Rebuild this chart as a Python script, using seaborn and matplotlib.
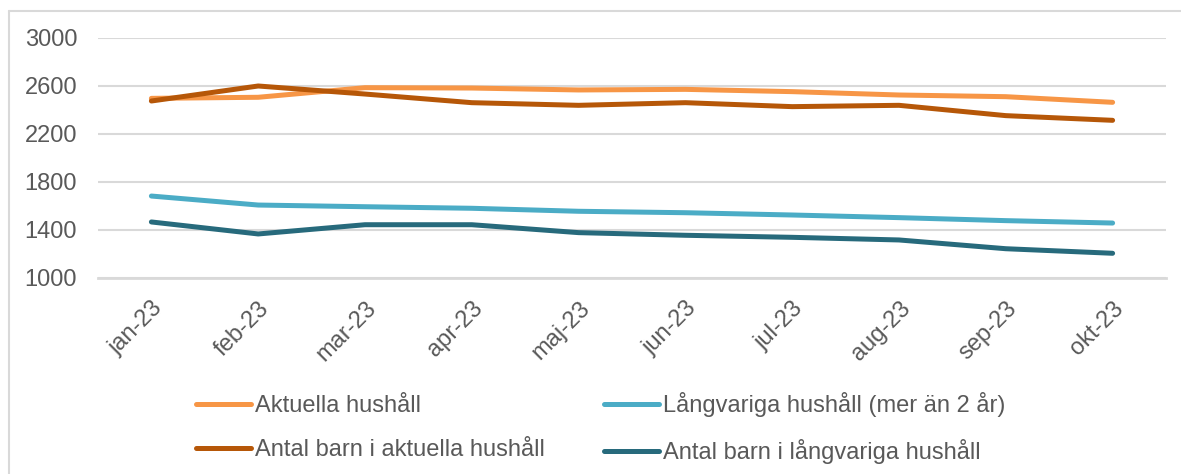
import matplotlib
matplotlib.use("Agg")
import matplotlib.pyplot as plt
from matplotlib.lines import Line2D
import seaborn as sns
import pandas as pd
import numpy as np

# Data
months = ['jan-23', 'feb-23', 'mar-23', 'apr-23', 'maj-23',
          'jun-23', 'jul-23', 'aug-23', 'sep-23', 'okt-23']
aktuella = [2497, 2506, 2586, 2583, 2567, 2572, 2553, 2525, 2511, 2464]
langvariga = [1683, 1608, 1594, 1581, 1556, 1544, 1525, 1503, 1478, 1458]
barn_aktuella = [2475, 2600, 2533, 2461, 2439, 2461, 2428, 2439, 2353, 2314]
barn_langvariga = [1467, 1367, 1444, 1444, 1378, 1356, 1339, 1317, 1244, 1206]

series_names = ['Aktuella hushåll', 'Långvariga hushåll (mer än 2 år)',
                'Antal barn i aktuella hushåll', 'Antal barn i långvariga hushåll']
colors = ['#F79646', '#4BACC6', '#B65708', '#276A7C']

df = pd.DataFrame({'Månad': months,
                   series_names[0]: aktuella,
                   series_names[1]: langvariga,
                   series_names[2]: barn_aktuella,
                   series_names[3]: barn_langvariga})
df_long = df.melt(id_vars='Månad', var_name='Serie', value_name='Antal')

sns.set_style("white")
plt.rcParams['font.family'] = ['Liberation Sans', 'DejaVu Sans']
text_color = '#595959'
grid_color = '#D9D9D9'
fs = 17

fig = plt.figure(figsize=(11.81, 4.74), dpi=100)
ax = fig.add_axes([98 / 1181, 1 - 278 / 474, (1166 - 98) / 1181, (278 - 38) / 474])

sns.lineplot(data=df_long, x='Månad', y='Antal', hue='Serie', hue_order=series_names,
             palette=colors, linewidth=3.6, sort=False, ax=ax, legend=False)
for line in ax.lines:
    line.set_solid_capstyle('round')
    line.set_solid_joinstyle('round')

ax.set_ylim(1000, 3000)
ax.set_yticks([1000, 1400, 1800, 2200, 2600, 3000])
ax.set_xlim(-0.5, len(months) - 0.5)
ax.set_xticks(range(len(months)))
ax.set_xticks(np.arange(-0.5, len(months), 1.0), minor=True)
ax.set_xticklabels(months, rotation=45, ha='right', rotation_mode='anchor')
ax.set_xlabel('')
ax.set_ylabel('')

ax.grid(axis='y', color=grid_color, linewidth=1.5)
ax.set_axisbelow(True)
for s in ['top', 'right', 'left']:
    ax.spines[s].set_visible(False)
ax.spines['bottom'].set_color(grid_color)
ax.spines['bottom'].set_linewidth(2)

ax.tick_params(axis='y', length=0, pad=15, labelsize=fs, labelcolor=text_color)
ax.tick_params(axis='x', which='major', length=0, pad=14, labelsize=fs, labelcolor=text_color)
ax.tick_params(axis='x', which='minor', length=6, width=1.5, color=grid_color)

# legend, two columns
handles = [Line2D([0], [0], color=c, linewidth=3.6, solid_capstyle='round') for c in colors]
order = [0, 2, 1, 3]
fig.legend([handles[i] for i in order], [series_names[i] for i in order],
           loc='upper left', bbox_to_anchor=(196 / 1181, 1 - 392 / 474),
           ncol=2, frameon=False, fontsize=fs, labelcolor=text_color,
           handlelength=2.33, handletextpad=0.17, labelspacing=0.94,
           columnspacing=2.5, borderpad=0, borderaxespad=0)

# outer chart border (Excel chart frame)
fig.add_artist(Line2D([9 / 1181, 9 / 1181], [0, 1 - 11 / 474], transform=fig.transFigure,
                      color=grid_color, linewidth=1.5))
fig.add_artist(Line2D([9 / 1181, 1], [1 - 11 / 474, 1 - 11 / 474], transform=fig.transFigure,
                      color=grid_color, linewidth=1.5))

fig.savefig('out.png', dpi=100)
